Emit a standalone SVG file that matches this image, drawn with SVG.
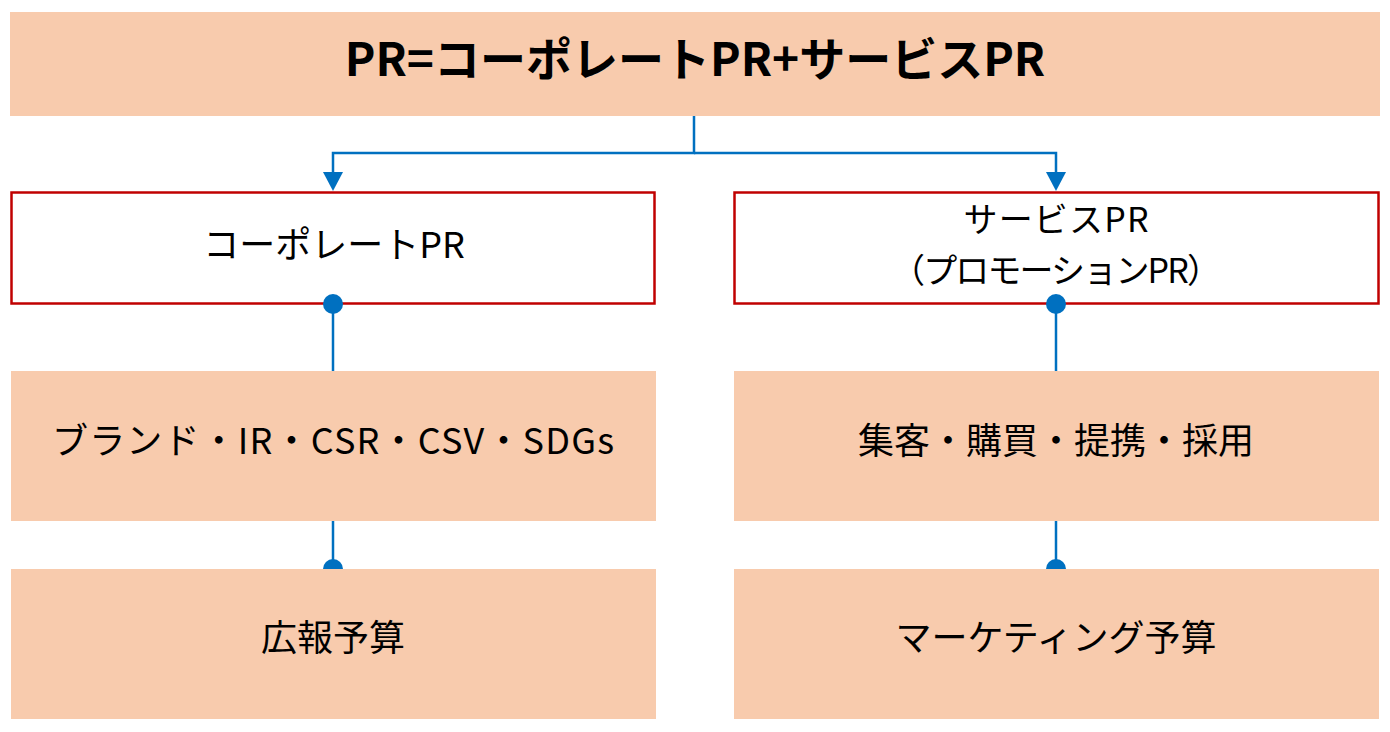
<svg xmlns="http://www.w3.org/2000/svg" width="1390" height="732" viewBox="0 0 1390 732">
<style>
.peach{fill:#F8CBAD}
.red{fill:#fff;stroke:#C00000;stroke-width:2.5}
.t{font-family:"Noto Sans CJK JP","Noto Sans",sans-serif;font-size:36px;fill:#000;text-anchor:middle}
.title{font-size:46px;font-weight:bold}
.two{font-size:34px}
.ln{fill:none;stroke:#0070C0;stroke-width:2.5}
.dot{fill:#0070C0}
</style>
<rect width="1390" height="732" fill="#fff"/>
<g id="top"><rect class="peach" x="10" y="12" width="1370" height="104"/><text class="t title" x="695" y="76">PR=コーポレートPR+サービスPR</text></g>
<g id="connectors">
<path class="ln" d="M694,116 V153 H333 V172"/>
<path class="ln" d="M694,153 H1056 V172"/>
<path d="M323,172 L343,172 L333,191 Z" fill="#0070C0"/>
<path d="M1046,172 L1066,172 L1056,191 Z" fill="#0070C0"/>
<path class="ln" d="M333,304 V371"/>
<path class="ln" d="M1056,304 V371"/>
<path class="ln" d="M333,521 V560"/>
<path class="ln" d="M1056,521 V560"/>
<path class="dot" d="M323,569 A10,10 0 0 1 343,569 Z"/>
<path class="dot" d="M1046,569 A10,10 0 0 1 1066,569 Z"/>
</g>
<g id="corp"><rect class="red" x="11.5" y="192.5" width="643" height="111"/><text class="t" x="334" y="258">コーポレートPR</text></g>
<g id="service"><rect class="red" x="734.5" y="192.5" width="644" height="111"/><text class="t two" x="1056" y="232" textLength="185" lengthAdjust="spacing">サービスPR</text><text class="t two" x="1056" y="283" textLength="330" lengthAdjust="spacing">（プロモーションPR）</text></g>
<g id="dots"><circle class="dot" cx="333" cy="304" r="10"/><circle class="dot" cx="1056" cy="304" r="10"/></g>
<g id="corp-items"><rect class="peach" x="11" y="371" width="645" height="150"/><text class="t" x="333" y="454" textLength="562" lengthAdjust="spacing">ブランド・IR・CSR・CSV・SDGs</text></g>
<g id="service-items"><rect class="peach" x="734" y="371" width="645" height="150"/><text class="t" x="1056" y="454">集客・購買・提携・採用</text></g>
<g id="corp-budget"><rect class="peach" x="11" y="569" width="645" height="150"/><text class="t" x="333" y="651">広報予算</text></g>
<g id="service-budget"><rect class="peach" x="734" y="569" width="645" height="150"/><text class="t" x="1056" y="651">マーケティング予算</text></g>
</svg>
